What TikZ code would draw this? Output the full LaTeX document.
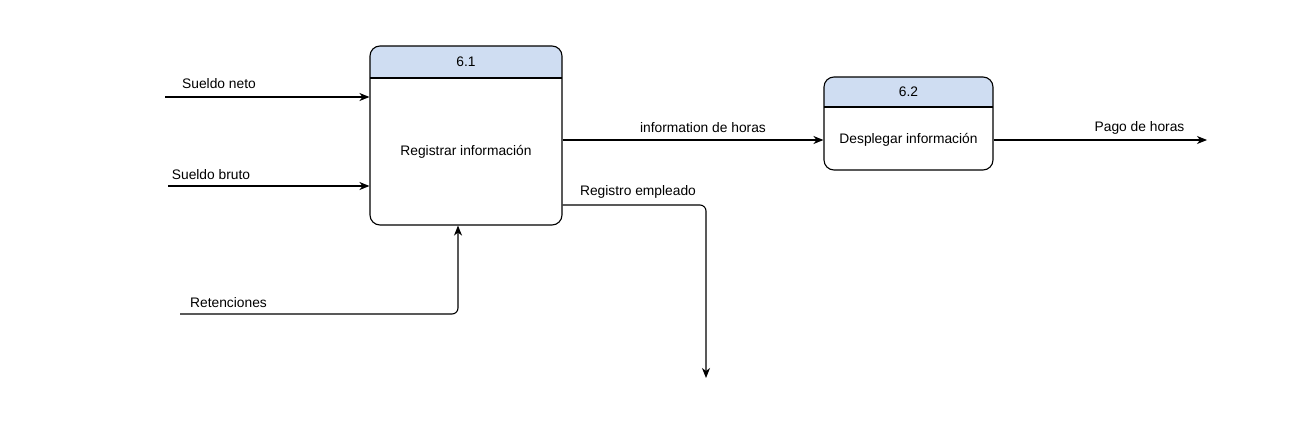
\documentclass[tikz,border=0pt]{standalone}
\usepackage{fontspec}
\setmainfont{Liberation Sans}
\usetikzlibrary{arrows.meta}
\definecolor{hdr}{RGB}{207,221,242}
\tikzset{
  proc/.style={draw=black, line width=1.1pt, rounded corners=10pt, inner sep=0pt},
  flow/.style={draw=black, line width=1.1pt, -{Stealth[length=10pt,width=8pt,inset=3pt]}},
  plain/.style={draw=black, line width=1.1pt},
  lbl/.style={inner sep=0pt, font=\fontsize{13.8}{16}\selectfont},
}
\begin{document}
\begin{tikzpicture}[x=1pt,y=-1pt]
\useasboundingbox (0,0) rectangle (1296,426);
% headers
\begin{scope}
  \clip[rounded corners=10pt] (370,46) rectangle (562,225);
  \fill[hdr] (370,46) rectangle (562,78);
\end{scope}
\begin{scope}
  \clip[rounded corners=10pt] (824,77) rectangle (993,170);
  \fill[hdr] (824,77) rectangle (993,107);
\end{scope}
\node[proc, minimum width=192pt, minimum height=179pt] (p61) at (466,135.5) {};
\node[proc, minimum width=169pt, minimum height=93pt] (p62) at (908.5,123.5) {};
\draw[plain] (370,78) -- (562,78);
\draw[plain] (824,107) -- (993,107);
\node[lbl] (t61) at (466,62) {6.1};
\node[lbl] (r61) at (466,152) {Registrar información};
\node[lbl] (t62) at (908.5,92) {6.2};
\node[lbl] (r62) at (908.5,139.5) {Desplegar información};
% free ends
\coordinate (sn) at (165,97);
\coordinate (sb) at (168,186);
\coordinate (ret) at (180,314);
\coordinate (pago) at (1207,140);
\coordinate (reg) at (706,378);
\coordinate (p62in) at ([yshift=-16.5pt]p62.west);
\coordinate (p62out) at ([yshift=-16.5pt]p62.east);
% connectors
\draw[flow] (sn) -- (sn -| p61.west);
\draw[flow] (sb) -- (sb -| p61.west);
\draw[flow, rounded corners=6pt] (ret) -| ([xshift=-8pt]p61.south);
\draw[flow] (p61.east |- p62in) -- (p62in);
\draw[flow] (p62out) -- (pago);
\draw[flow, rounded corners=6pt] ([yshift=-69.5pt]p61.east) -| (reg);
% labels
\node[lbl] (lsn) at (219,84) {Sueldo neto};
\node[lbl] (lsb) at (211,175) {Sueldo bruto};
\node[lbl] (lret) at (228.5,303) {Retenciones};
\node[lbl] (lih) at (703,128) {information de horas};
\node[lbl] (lph) at (1139.5,128) {Pago de horas};
\node[lbl] (lre) at (638,192) {Registro empleado};
\end{tikzpicture}
\end{document}
